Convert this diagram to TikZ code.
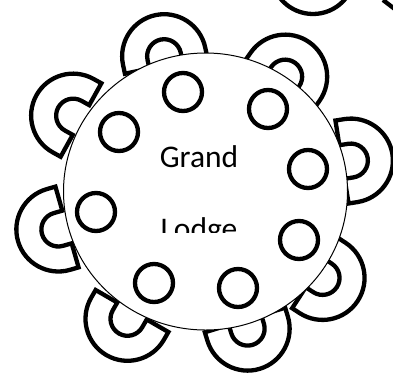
\documentclass[tikz,border=0pt]{standalone}
\usepackage{fontspec}
\setmainfont{Carlito}
\usetikzlibrary{positioning}

\begin{document}
\begin{tikzpicture}[x=1pt, y=1pt, every node/.style={font=\fontsize{31.5}{36}\selectfont}, heavy/.style={line width=4.3pt,black,fill=white,miter limit=10}, seat/.style={heavy,draw,circle,inner sep=0pt,minimum size=38pt}, chair/.pic={\draw[heavy] (0,42) -- (9,42) arc[start angle=90,end angle=-90,radius=42pt] -- (0,-42) -- (0,-17) -- (9,-17) arc[start angle=-90,end angle=90,radius=17pt] -- (0,17) -- cycle;}]
\useasboundingbox (0,0) rectangle (393,-373);
\clip (0,0) rectangle (393,-373);
% chairs round the table
\pic[rotate=102] at (166,-65) {chair};
\pic[rotate=55] at (280,-84) {chair};
\pic[rotate=9] at (342,-162) {chair};
\pic[rotate=-33] at (315,-273) {chair};
\pic[rotate=-73] at (245,-320) {chair};
\pic[rotate=-120] at (132,-311) {chair};
\pic[rotate=-164] at (67,-227) {chair};
\pic[rotate=151] at (81,-120) {chair};
% the one cut off at the top
\pic[rotate=-90] at (313,37) {chair};
\draw[heavy] (383,0) -- (396,-10);
% table
\draw[line width=1pt,fill=white] (205.5,-191.5) ellipse[x radius=142pt,y radius=138.5pt];
% seats
\node[seat] (s1) at (183,-92) {};
\node[seat] (s2) at (268,-109) {};
\node[seat] (s3) at (119,-132) {};
\node[seat] (s4) at (308,-169) {};
\node[seat] (s5) at (96,-212) {};
\node[seat] (s6) at (299,-240) {};
\node[seat] (s7) at (154,-283) {};
\node[seat] (s8) at (238,-288) {};
% label
\node[anchor=base] (grand) at (199,-167) {Grand};
\begin{scope}
\clip (120,-150) rectangle (280,-232);
\node[anchor=base] (lodge) at (199,-239) {Lodge};
\end{scope}
\end{tikzpicture}
\end{document}
